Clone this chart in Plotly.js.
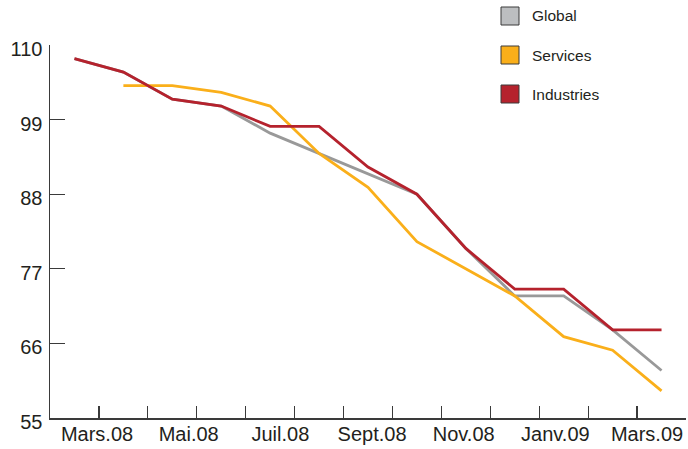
<!DOCTYPE html>
<html>
<head>
<meta charset="utf-8">
<script src="https://cdn.plot.ly/plotly-3.0.1.min.js"></script>
<style>html,body{margin:0;padding:0;background:#fff;}#chart{width:688px;height:449px;}</style>
</head>
<body>
<div id="chart"></div>
<script>
// Months (Mars 2008 -> Mars 2009)
const months = ['Mars.08','Avr.08','Mai.08','Juin.08','Juil.08','Août.08','Sept.08','Oct.08','Nov.08','Déc.08','Janv.09','Févr.09','Mars.09'];
const axisLabels = ['Mars.08','Mai.08','Juil.08','Sept.08','Nov.08','Janv.09','Mars.09'];
const yTicks = [55, 66, 77, 88, 99, 110];

const seriesNames = ['Global','Services','Industries'];
const globalVals     = [108, 106, 102, 101, 97, 94, 91, 88, 80, 73, 73, 68, 62];
const servicesVals   = [null, 104, 104, 103, 101, 94, 89, 81, 77, 73, 67, 65, 59];
const industriesVals = [108, 106, 102, 101, 98, 98, 92, 88, 80, 74, 74, 68, 68];

const lineColors   = ['#999999', '#FAAF1A', '#B5222D'];
const swatchColors = ['#BCBEC0', '#FAAF1A', '#B5222D'];

const W = 688, H = 449;
const M = {l: 50, r: 2, t: 45, b: 31};
const pw = W - M.l - M.r, ph = H - M.t - M.b;
const px2x = p => (p - M.l) / pw;
const px2y = p => (H - M.b - p) / ph;

const idx = months.map((_, i) => i);
const FONT = 'Liberation Sans, Arial, sans-serif';
const TXT = '#231F20';
const AX = '#3A3A3A';

function mk(name, vals, color) {
  return {x: idx, y: vals, name: name, type: 'scatter', mode: 'lines',
          line: {color: color, width: 2.8}, showlegend: false, hoverinfo: 'x+y', connectgaps: false};
}
const data = [
  mk(seriesNames[0], globalVals, lineColors[0]),
  mk(seriesNames[1], servicesVals, lineColors[1]),
  mk(seriesNames[2], industriesVals, lineColors[2]),
  // invisible trace carrying the month labels axis
  {x: [null], y: [null], xaxis: 'x2', yaxis: 'y', showlegend: false, hoverinfo: 'skip', mode: 'lines'}
];

const shapes = [], annotations = [];
const legendRowsY = [16, 55, 94];
seriesNames.forEach((n, i) => {
  const cy = legendRowsY[i];
  shapes.push({type: 'rect', xref: 'paper', yref: 'paper',
    x0: px2x(501), x1: px2x(519), y0: px2y(cy + 9), y1: px2y(cy - 9),
    fillcolor: swatchColors[i], line: {color: '#3A3A3A', width: 1}});
  annotations.push({xref: 'paper', yref: 'paper', x: px2x(530), y: px2y(cy),
    xanchor: 'left', yanchor: 'middle', text: n, showarrow: false,
    font: {family: FONT, size: 15.5, color: TXT}});
});

const layout = {
  width: W, height: H,
  margin: M,
  paper_bgcolor: '#fff', plot_bgcolor: '#fff',
  showlegend: false,
  xaxis: {
    range: [-0.5, 12.5], showgrid: false, zeroline: false,
    showline: true, linecolor: AX, linewidth: 1.5,
    tickmode: 'array', tickvals: idx.map(i => i + 0.5),
    ticks: 'inside', ticklen: 12, tickwidth: 1.2, tickcolor: AX,
    showticklabels: false, fixedrange: true
  },
  xaxis2: {
    overlaying: 'x', anchor: 'y', side: 'bottom',
    range: [-0.513, 6.425], showgrid: false, zeroline: false, showline: false,
    tickmode: 'array', tickvals: axisLabels.map((_, i) => i), ticktext: axisLabels,
    ticks: '', ticklabelstandoff: 2,
    tickfont: {family: FONT, size: 20, color: TXT}, fixedrange: true
  },
  yaxis: {
    range: [55, 110], showgrid: false, zeroline: false,
    showline: true, linecolor: AX, linewidth: 1.5,
    tickmode: 'array', tickvals: yTicks,
    ticks: 'inside', ticklen: 15, tickwidth: 1.2, tickcolor: AX,
    ticklabelstandoff: 2, ticklabelshift: 4,
    tickfont: {family: FONT, size: 20, color: TXT}, fixedrange: true
  },
  shapes: shapes,
  annotations: annotations
};

Plotly.newPlot('chart', data, layout, {displayModeBar: false, staticPlot: true});
</script>
</body>
</html>
